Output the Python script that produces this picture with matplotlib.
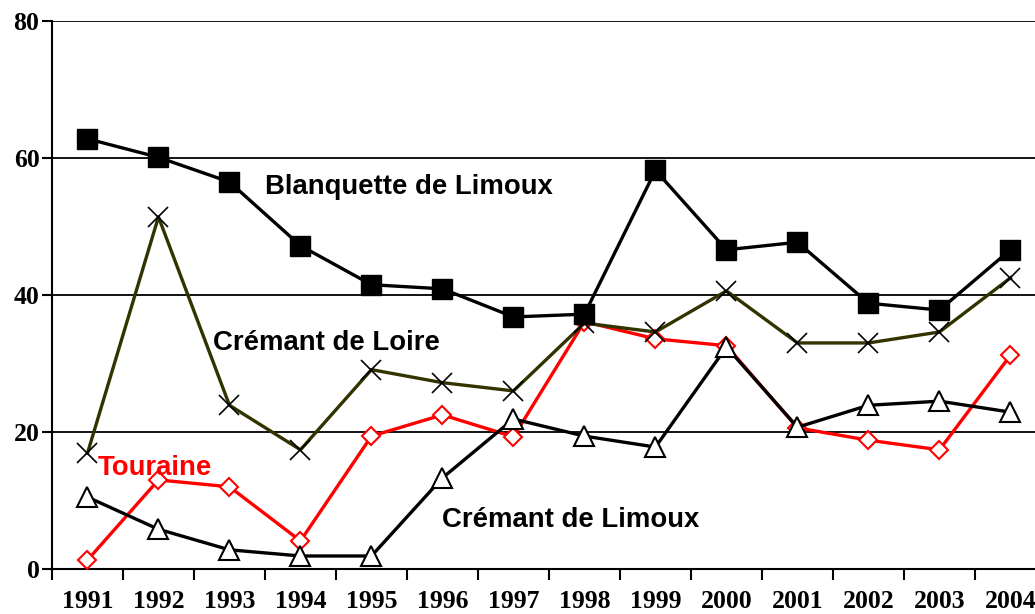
import matplotlib
matplotlib.use("Agg")
import matplotlib.pyplot as plt

years = [str(y) for y in range(1991, 2005)]

blanquette = [62.8, 60.1, 56.5, 47.2, 41.5, 40.9, 36.8, 37.2, 58.2, 46.6, 47.7, 38.8, 37.8, 46.6]
loire = [16.9, 51.4, 23.9, 17.4, 29.1, 27.2, 26.0, 35.9, 34.6, 40.6, 33.0, 33.0, 34.6, 42.5]
touraine = [1.3, 13.0, 12.0, 4.1, 19.4, 22.5, 19.3, 36.1, 33.6, 32.6, 20.6, 18.8, 17.4, 31.2]
limoux = [10.5, 5.8, 2.8, 1.9, 1.9, 13.3, 21.9, 19.4, 17.8, 32.4, 20.7, 23.9, 24.5, 22.9]

fig = plt.figure(figsize=(10.35, 6.14), dpi=100)
# the original is cropped on the right: axes run a little past the figure edge
ax = fig.add_axes([0.0502, 0.0733, 0.9604, 0.8925])

x = list(range(len(years)))

ax.plot(x, touraine, color="#ff0000", lw=2.4, marker="D", ms=9,
        mfc="white", mec="#ff0000", mew=1.5, zorder=3)
ax.plot(x, limoux, color="black", lw=2.4, marker="^", ms=15,
        mfc="white", mec="black", mew=1.5, zorder=4)
ax.plot(x, loire, color="#333300", lw=2.4, marker="x", ms=15,
        mec="black", mew=1.2, zorder=5)
ax.plot(x, blanquette, color="black", lw=2.4, marker="s", ms=14,
        mfc="black", mec="black", zorder=6)

txt = dict(family="Liberation Sans", weight="bold", fontsize=19.8, va="center", ha="left")
ax.text(2.5, 55.8, "Blanquette de Limoux", color="black", **txt)
ax.text(1.77, 33.0, "Crémant de Loire", color="black", **txt)
ax.text(0.15, 14.7, "Touraine", color="#ff0000", **txt)
ax.text(4.99, 7.1, "Crémant de Limoux", color="black", **txt)

ax.set_xlim(-0.5, len(years) - 0.5)
ax.set_ylim(0, 80)
ax.set_yticks([0, 20, 40, 60, 80])
ax.yaxis.grid(True, color="black", lw=1.3)
ax.set_axisbelow(True)

ax.set_xticks([i + 0.5 for i in range(-1, len(years))], minor=False)
ax.set_xticklabels([])
ax.set_xticks(x, minor=True)
ax.set_xticklabels(years, minor=True)
ax.tick_params(axis="x", which="major", direction="out", length=8, width=1.5, color="black")
ax.tick_params(axis="x", which="minor", length=0, pad=15)
ax.tick_params(axis="y", direction="out", length=7, width=1.5, pad=2)

for lab in ax.get_xticklabels(minor=True) + ax.get_yticklabels():
    lab.set_family("Liberation Serif")
    lab.set_weight("bold")
    lab.set_fontsize(18.5)

for side in ["top", "right"]:
    ax.spines[side].set_visible(False)
for side in ["left", "bottom"]:
    ax.spines[side].set_linewidth(1.5)

fig.savefig("out.png", dpi=100)
